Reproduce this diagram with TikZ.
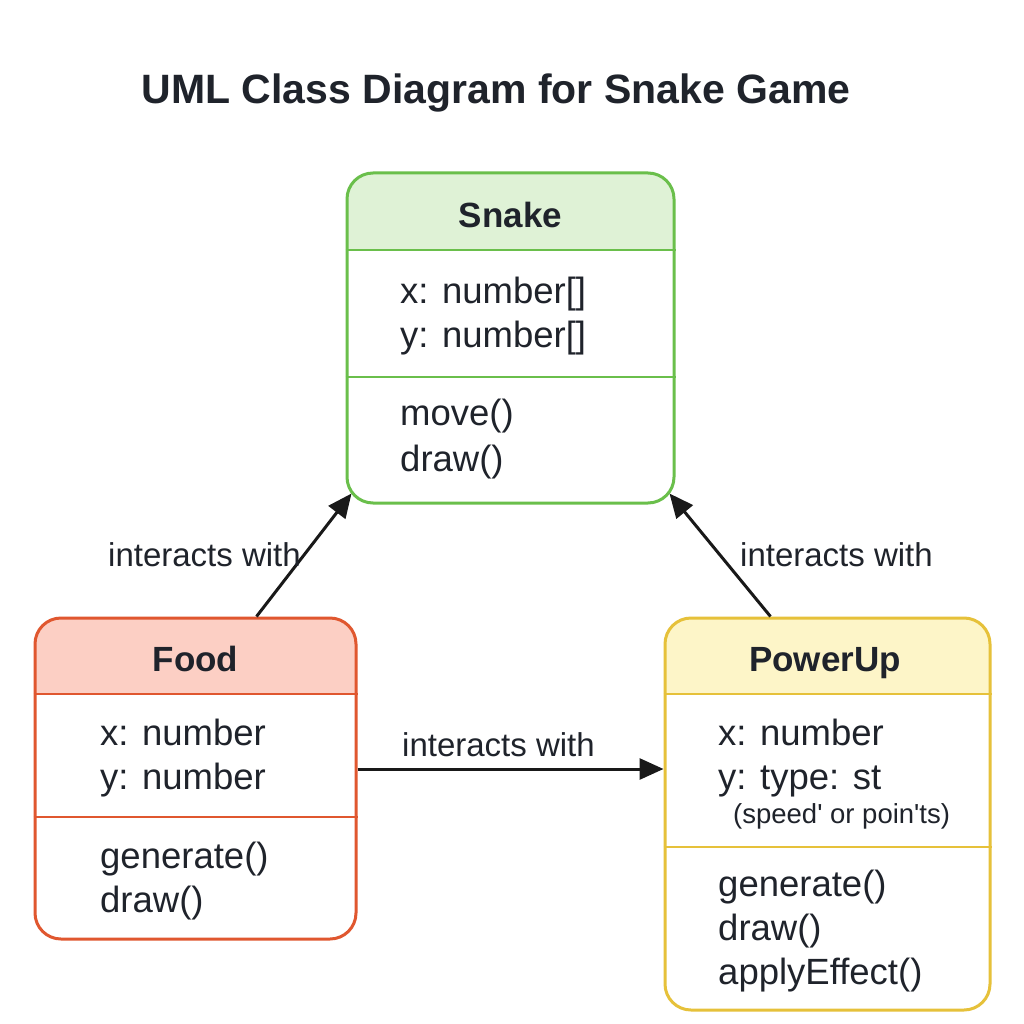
\documentclass[tikz,border=0pt]{standalone}
\usepackage{fontspec}
\setmainfont{Liberation Sans}
\usetikzlibrary{arrows.meta,calc}
\definecolor{txt}{HTML}{1F232B}
\definecolor{snakeln}{HTML}{6ABF4B}
\definecolor{snakehd}{HTML}{DFF2D6}
\definecolor{foodln}{HTML}{E0572F}
\definecolor{foodhd}{HTML}{FCCFC4}
\definecolor{pwrln}{HTML}{E6C13A}
\definecolor{pwrhd}{HTML}{FDF5C8}
\tikzset{
  classbox/.style={draw=#1, line width=3pt, rounded corners=26pt, fill=white, inner sep=0pt},
  divider/.style={draw=#1, line width=2.5pt},
  attr/.style={anchor=base west, inner sep=0pt, text=txt, font=\fontsize{36.5}{42}\selectfont},
  small/.style={anchor=base west, inner sep=0pt, text=txt, font=\fontsize{27.5}{32}\selectfont},
  hdr/.style={anchor=base, inner sep=0pt, text=txt, font=\fontsize{35}{40}\selectfont\bfseries},
  lbl/.style={anchor=base west, inner sep=0pt, text=txt, font=\fontsize{33}{38}\selectfont},
  arr/.style={draw=black!90, line width=3pt, -{Triangle[length=24pt,width=21pt]}}
}
\begin{document}
\begin{tikzpicture}[x=1pt,y=-1pt]
\useasboundingbox[fill=white] (0,0) rectangle (1024,1024);
\node[anchor=base, inner sep=0pt, text=txt, font=\fontsize{41}{48}\selectfont\bfseries] (title) at (496,104) {UML Class Diagram for Snake Game};

% Snake
\node[classbox=snakeln, minimum width=327pt, minimum height=330pt,
  path picture={\fill[snakehd, sharp corners] (path picture bounding box.north west) rectangle ([yshift=-77pt]path picture bounding box.north east);}] (snake) at (510.5,338) {};
\draw[divider=snakeln] (snake.west |- 0,250) -- (snake.east |- 0,250);
\draw[divider=snakeln] (snake.west |- 0,377) -- (snake.east |- 0,377);
\node[hdr] (snaket) at (510.5,228) {Snake};
\node[attr] (s1) at (400,303) {x: number[]};
\node[attr] (s2) at (400,347) {y: number[]};
\node[attr] (s3) at (400,425) {move()};
\node[attr] (s4) at (400,471) {draw()};

% Food
\node[classbox=foodln, minimum width=321pt, minimum height=321pt,
  path picture={\fill[foodhd, sharp corners] (path picture bounding box.north west) rectangle ([yshift=-76pt]path picture bounding box.north east);}] (food) at (195.5,778.5) {};
\draw[divider=foodln] (food.west |- 0,694) -- (food.east |- 0,694);
\draw[divider=foodln] (food.west |- 0,817) -- (food.east |- 0,817);
\node[hdr] (foodt) at (195.5,671) {Food};
\node[attr] (f1) at (100,745) {x: number};
\node[attr] (f2) at (100,789) {y: number};
\node[attr] (f3) at (100,868) {generate()};
\node[attr] (f4) at (100,912) {draw()};

% PowerUp
\node[classbox=pwrln, minimum width=325pt, minimum height=392pt,
  path picture={\fill[pwrhd, sharp corners] (path picture bounding box.north west) rectangle ([yshift=-76pt]path picture bounding box.north east);}] (pwr) at (827.5,814) {};
\draw[divider=pwrln] (pwr.west |- 0,694) -- (pwr.east |- 0,694);
\draw[divider=pwrln] (pwr.west |- 0,847) -- (pwr.east |- 0,847);
\node[hdr] (pwrt) at (825,671) {PowerUp};
\node[attr] (p1) at (718,745) {x: number};
\node[attr] (p2) at (718,789) {y: type: st};
\node[small] (p3) at (733,823) {(speed\textquotesingle{} or poin\textquotesingle ts)};
\node[attr] (p4) at (718,896) {generate()};
\node[attr] (p5) at (718,940) {draw()};
\node[attr] (p6) at (718,984) {applyEffect()};

% connectors
\draw[arr] ($(food.north west)+(223,0)$) -- ($(snake.south west)+(6,-11)$);
\draw[arr] ($(pwr.north west)+(107,0)$) -- ($(snake.south east)+(-6,-11)$);
\draw[arr] (food.east |- 0,769) -- (pwr.west |- 0,769);

\node[lbl] (l1) at (108,566) {interacts with};
\node[lbl] (l2) at (740,566) {interacts with};
\node[lbl] (l3) at (402,756) {interacts with};
\end{tikzpicture}
\end{document}
